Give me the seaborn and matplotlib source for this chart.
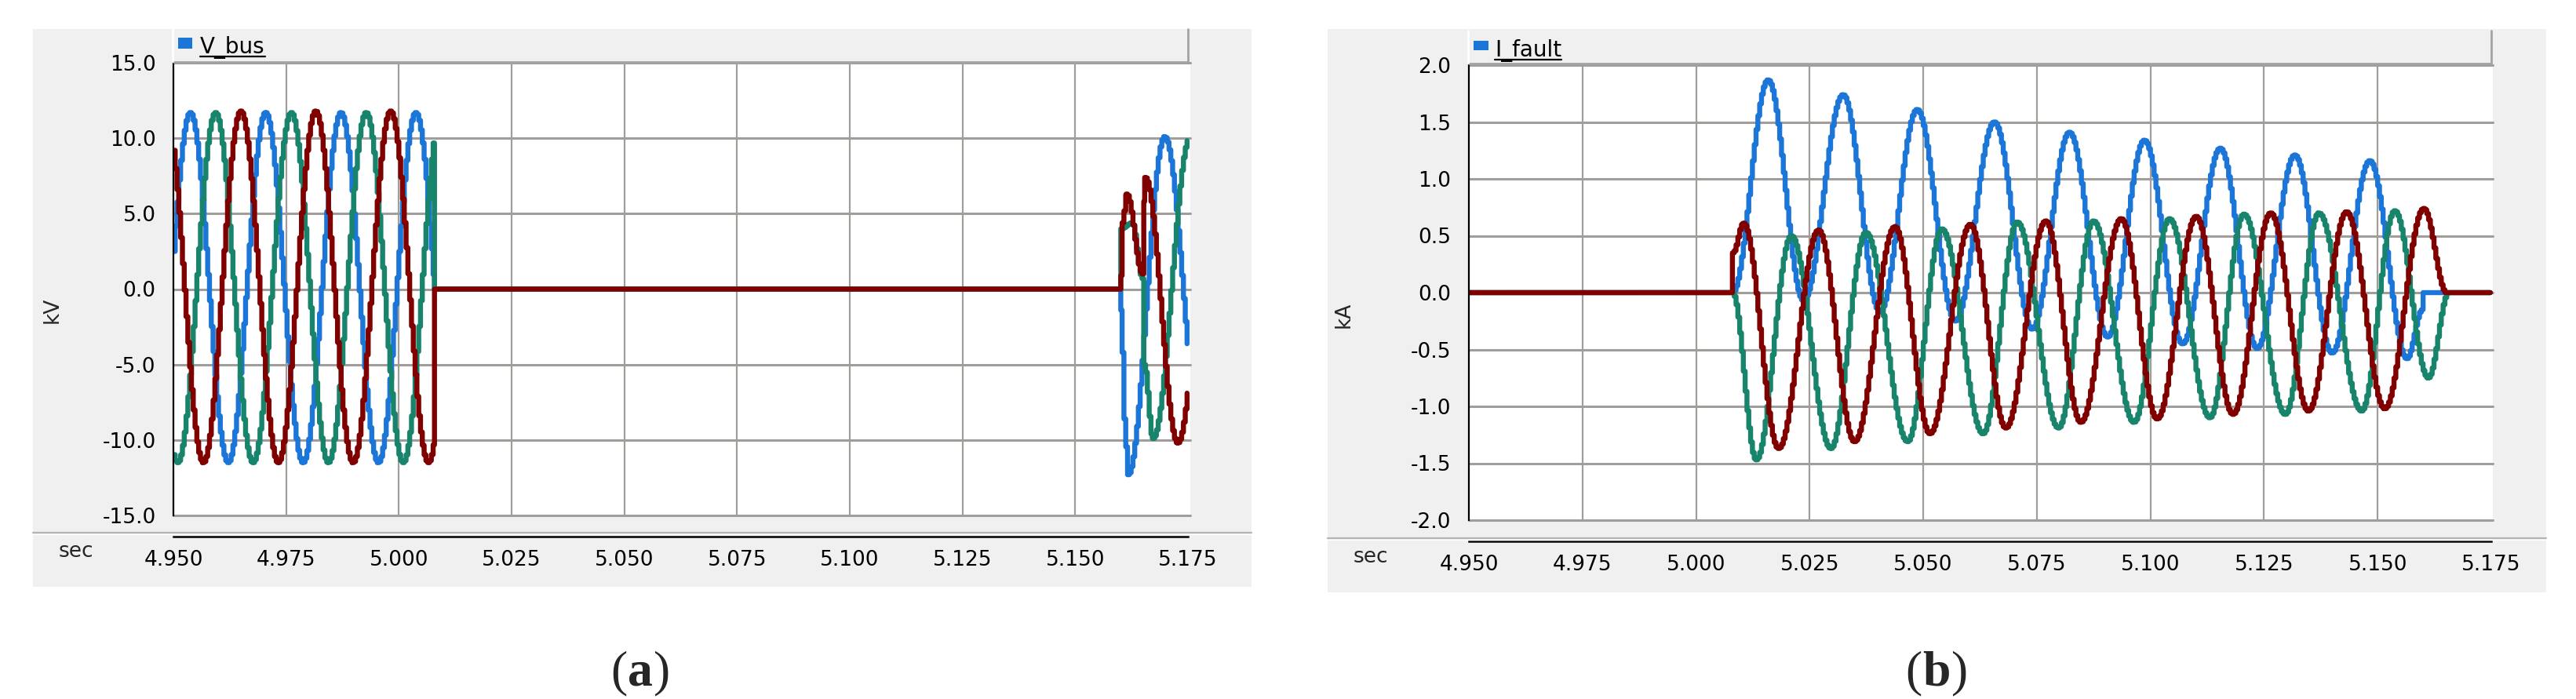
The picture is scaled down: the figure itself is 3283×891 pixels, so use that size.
import numpy as np
import pandas as pd
import matplotlib
matplotlib.use("Agg")
import matplotlib.pyplot as plt
import seaborn as sns
from matplotlib.patches import Rectangle
from matplotlib.lines import Line2D

# ---------------- data ----------------
X_TICKS = [4.950, 4.975, 5.000, 5.025, 5.050, 5.075, 5.100, 5.125, 5.150, 5.175]
X_TICK_LABELS = ["4.950", "4.975", "5.000", "5.025", "5.050", "5.075",
                 "5.100", "5.125", "5.150", "5.175"]
V_TICKS = [-15.0, -10.0, -5.0, 0.0, 5.0, 10.0, 15.0]
I_TICKS = [-2.0, -1.5, -1.0, -0.5, 0.0, 0.5, 1.0, 1.5, 2.0]
PHASES = ["A", "B", "C"]
COLORS = ["#1b76d8", "#18846b", "#800000"]

T_FAULT = 5.0079     # bus voltage collapses, fault current starts
T_RECLOSE = 5.1600   # bus voltage returns

# V_bus before the fault: extrema (s, kV)
VA_PRE_T = [4.9453, 4.9536, 4.9620, 4.9703, 4.9786, 4.9870, 4.9953, 5.0036, 5.0120]
VA_PRE_V = [-11.5, 11.7, -11.5, 11.7, -11.5, 11.7, -11.5, 11.7, -11.5]
VB_PRE_T = [4.9425, 4.9508, 4.9592, 4.9675, 4.9760, 4.9842, 4.9926, 5.0008, 5.0092]
VB_PRE_V = [11.7, -11.5, 11.7, -11.5, 11.7, -11.5, 11.7, -11.5, 11.7]
VC_PRE_T = [4.9482, 4.9565, 4.9648, 4.9731, 4.9814, 4.9897, 4.9980, 5.0064, 5.0147]
VC_PRE_V = [11.8, -11.5, 11.8, -11.5, 11.8, -11.5, 11.8, -11.5, 11.8]

# V_bus after reclosing (s, kV)
VA_POST_T = [5.1600, 5.1601, 5.1608, 5.1616, 5.1697, 5.1780]
VA_POST_V = [0.0, -1.4, -8.6, -12.3, 10.1, -10.2]
VB_POST_T = [5.1600, 5.1601, 5.1625, 5.1648, 5.1652, 5.1671, 5.1754, 5.1837]
VB_POST_V = [0.0, 4.0, 4.4, 0.7, -5.0, -9.9, 10.1, -10.0]
VC_POST_T = [5.1600, 5.1601, 5.1604, 5.1613, 5.1648, 5.1654, 5.1726, 5.1809]
VC_POST_V = [0.0, 0.9, 4.4, 6.3, 1.0, 7.4, -10.2, 10.0]

# I_fault during the fault (s, kA)
IA_T = [5.0079, 5.0157, 5.0235, 5.0322, 5.0403, 5.0485, 5.0569, 5.0655, 5.0738,
        5.0820, 5.0904, 5.0985, 5.1069, 5.1152, 5.1233, 5.1316, 5.1398, 5.1481,
        5.1563, 5.1597]
IA_V = [0.0, 1.87, -0.07, 1.74, -0.17, 1.61, -0.25, 1.50, -0.32,
        1.41, -0.39, 1.34, -0.45, 1.27, -0.49, 1.21, -0.53, 1.16,
        -0.58, -0.15]
IB_T = [5.0079, 5.0131, 5.0208, 5.0295, 5.0372, 5.0464, 5.0539, 5.0630, 5.0705,
        5.0796, 5.0873, 5.0962, 5.1040, 5.1129, 5.1204, 5.1295, 5.1369, 5.1463,
        5.1536, 5.1610, 5.1655]
IB_V = [0.0, -1.47, 0.50, -1.37, 0.53, -1.31, 0.56, -1.24, 0.62,
        -1.19, 0.63, -1.14, 0.65, -1.10, 0.69, -1.07, 0.70, -1.04,
        0.72, -0.75, 0.0]
IC_T = [5.0079, 5.0080, 5.0103, 5.0180, 5.0268, 5.0347, 5.0436, 5.0513, 5.0602,
        5.0680, 5.0768, 5.0845, 5.0934, 5.1013, 5.1099, 5.1180, 5.1263, 5.1346,
        5.1430, 5.1514, 5.1600, 5.1650]
IC_V = [0.0, 0.35, 0.61, -1.37, 0.55, -1.31, 0.58, -1.24, 0.60,
        -1.19, 0.63, -1.14, 0.65, -1.11, 0.67, -1.07, 0.70, -1.04,
        0.71, -1.02, 0.74, 0.0]

PLOT_STEP = 0.0004  # recorder output interval (staircase look)

# ---------------- helpers ----------------
def shaped(kt, kv, t):
    """Half-cosine shape between successive read extrema."""
    kt = np.asarray(kt, float)
    kv = np.asarray(kv, float)
    i = np.clip(np.searchsorted(kt, t, side="right") - 1, 0, len(kt) - 2)
    s = np.clip((t - kt[i]) / (kt[i + 1] - kt[i]), 0, 1)
    return kv[i] + (kv[i + 1] - kv[i]) * (1 - np.cos(np.pi * s)) / 2


def time_grid(*knot_lists):
    g = np.arange(X_TICKS[0], X_TICKS[-1] + 1e-9, PLOT_STEP)
    extra = [T_FAULT, T_RECLOSE]
    for k in knot_lists:
        extra += list(k)
    extra = np.array(extra)
    extra = extra[(extra >= X_TICKS[0]) & (extra <= X_TICKS[-1])]
    return np.union1d(np.round(g, 7), np.round(extra, 7))


def voltage(pre_t, pre_v, post_t, post_v):
    t = time_grid(pre_t, post_t)
    v = np.zeros_like(t)
    m1 = t < T_FAULT
    m2 = t >= T_RECLOSE
    v[m1] = shaped(pre_t, pre_v, t[m1])
    v[m2] = shaped(post_t, post_v, t[m2])
    return t, v


def current(kt, kv):
    t = time_grid(kt)
    v = np.zeros_like(t)
    m = (t >= kt[0]) & (t <= kt[-1])
    v[m] = shaped(kt, kv, t[m])
    return t, v


rows_v, rows_i = [], []
for ph, (a, b, c, d) in zip(PHASES, [(VA_PRE_T, VA_PRE_V, VA_POST_T, VA_POST_V),
                                     (VB_PRE_T, VB_PRE_V, VB_POST_T, VB_POST_V),
                                     (VC_PRE_T, VC_PRE_V, VC_POST_T, VC_POST_V)]):
    t, v = voltage(a, b, c, d)
    rows_v.append(pd.DataFrame({"t": t, "val": v, "phase": ph}))
for ph, (kt, kv) in zip(PHASES, [(IA_T, IA_V), (IB_T, IB_V), (IC_T, IC_V)]):
    t, v = current(kt, kv)
    rows_i.append(pd.DataFrame({"t": t, "val": v, "phase": ph}))
df_v = pd.concat(rows_v, ignore_index=True)
df_i = pd.concat(rows_i, ignore_index=True)

# ---------------- figure ----------------
sns.set_style("white")
plt.rcParams["font.family"] = ["DejaVu Sans"]
plt.rcParams["axes.unicode_minus"] = False

W, H, DPI = 3283, 891, 100
fig = plt.figure(figsize=(W / DPI, H / DPI), dpi=DPI)
fig.patch.set_facecolor("white")


def fx(x):
    return x / W


def fy(y):
    return 1 - y / H


def rect(x0, y0, x1, y1, **kw):
    fig.add_artist(Rectangle((fx(x0), fy(y1)), fx(x1) - fx(x0), fy(y0) - fy(y1),
                             transform=fig.transFigure, **kw))


def seg(x0, y0, x1, y1, **kw):
    fig.add_artist(Line2D([fx(x0), fx(x1)], [fy(y0), fy(y1)],
                          transform=fig.transFigure, **kw))


GRID_C = "#a09d9a"
BG = "#f0f0f0"
FS = 19

panels = [
    dict(df=df_v, ticks=V_TICKS, unit="kV", legend="V_bus",
         grey=(42, 37, 1595, 748), strip=(221, 37, 1514, 78),
         plot=(221, 80, 1517, 657), ruler=(221, 1514, 684), sep=679,
         sec=(97, 703), ylab=(67, 395), sq=(227, 48, 245, 62),
         ltxt=(255, 68), uline=72, cap=(816, 873), letter="a"),
    dict(df=df_i, ticks=I_TICKS, unit="kA", legend="I_fault",
         grey=(1692, 37, 3245, 755), strip=(1872, 39, 3175, 80),
         plot=(1872, 83, 3177, 663), ruler=(1872, 3175, 690), sep=686,
         sec=(1747, 710), ylab=(1713, 401), sq=(1878, 52, 1897, 64),
         ltxt=(1905, 72), uline=76, cap=(2468, 873), letter="b"),
]

renderer = fig.canvas.get_renderer()

for p in panels:
    gx0, gy0, gx1, gy1 = p["grey"]
    rect(gx0, gy0, gx1, gy1, facecolor=BG, edgecolor="none", zorder=-5)

    # legend strip
    sx0, sy0, sx1, sy1 = p["strip"]
    rect(sx0, sy0, sx1, sy1, facecolor=BG, edgecolor="none", zorder=-4)
    seg(sx0, sy1 + 1, sx1, sy1 + 1, color="#a3a3a3", lw=2.0, zorder=2)
    seg(sx1, sy0, sx1, sy1 + 1, color="#a3a3a3", lw=2.0, zorder=2)
    seg(sx0 - 1, sy0, sx0 - 1, sy1, color="white", lw=2.0, zorder=2)
    qx0, qy0, qx1, qy1 = p["sq"]
    rect(qx0, qy0, qx1, qy1, facecolor=COLORS[0], edgecolor="none", zorder=3)
    tx, ty = p["ltxt"]
    lt = fig.text(fx(tx), fy(ty), p["legend"], fontsize=20, ha="left",
                  va="baseline", color="black")
    bb = lt.get_window_extent(renderer)
    seg(tx, p["uline"], tx + bb.width, p["uline"], color="black", lw=1.6, zorder=3)

    # main plot
    px0, py0, px1, py1 = p["plot"]
    rx0, rx1, ry = p["ruler"]
    ax = fig.add_axes([fx(px0), fy(py1), fx(px1) - fx(px0), fy(py0) - fy(py1)])
    ax.set_facecolor("white")
    sns.lineplot(data=p["df"], x="t", y="val", hue="phase", hue_order=PHASES,
                 palette=COLORS, estimator=None, errorbar=None, sort=False,
                 drawstyle="steps-post", linewidth=4.6, legend=False, ax=ax,
                 zorder=3)
    span = X_TICKS[-1] - X_TICKS[0]
    ax.set_xlim(X_TICKS[0], X_TICKS[0] + span * (px1 - px0) / (rx1 - rx0))
    ax.set_ylim(p["ticks"][0], p["ticks"][-1])
    ax.set_xticks(X_TICKS[1:-1])
    ax.set_yticks(p["ticks"])
    ax.set_yticklabels([f"{v:.1f}" for v in p["ticks"]])
    ax.set_xlabel("")
    ax.set_ylabel("")
    ax.tick_params(axis="x", length=0, labelbottom=False)
    ax.tick_params(axis="y", direction="out", length=7.2, width=1.5,
                   labelsize=FS, pad=9, colors="black")
    ax.grid(True, axis="x", color=GRID_C, lw=1.6)
    ax.grid(True, axis="y", color=GRID_C, lw=2.2)
    ax.set_axisbelow(True)
    for gl in ax.get_ygridlines():
        gl.set_clip_on(False)
    for s in ["top", "right", "bottom"]:
        ax.spines[s].set_visible(False)
    ax.spines["left"].set_color("black")
    ax.spines["left"].set_linewidth(1.6)
    ax.spines["left"].set_zorder(4)

    fig.text(fx(p["ylab"][0]), fy(p["ylab"][1]), p["unit"], rotation=90,
             ha="center", va="center", fontsize=FS)

    # separator + time ruler
    seg(gx0, p["sep"], gx1, p["sep"], color="#b4b4b4", lw=1.6, zorder=1)
    seg(gx0, p["sep"] + 2, gx1, p["sep"] + 2, color="white", lw=1.0, zorder=1)
    axr = fig.add_axes([fx(rx0), fy(ry), fx(rx1) - fx(rx0), 0.002])
    axr.patch.set_alpha(0)
    axr.set_xlim(X_TICKS[0], X_TICKS[-1])
    axr.set_ylim(0, 1)
    axr.set_xticks(X_TICKS)
    axr.set_xticklabels(X_TICK_LABELS)
    axr.set_yticks([])
    for s in ["top", "right", "left"]:
        axr.spines[s].set_visible(False)
    axr.spines["bottom"].set_color("black")
    axr.spines["bottom"].set_linewidth(1.8)
    axr.tick_params(axis="x", direction="out", length=7.2, width=1.5,
                    labelsize=FS, pad=5, colors="black")
    fig.text(fx(p["sec"][0]), fy(p["sec"][1]), "sec", ha="center",
             va="center", fontsize=FS)

    # caption (a)/(b)
    cx, cy = p["cap"]
    cfam = ["Liberation Serif", "DejaVu Serif"]
    cfs = 46
    tb = fig.text(fx(cx), fy(cy), p["letter"], fontsize=cfs, fontweight="bold",
                  family=cfam, ha="center", va="baseline")
    w = tb.get_window_extent(renderer).width
    fig.text(fx(cx - w / 2 - 1), fy(cy), "(", fontsize=cfs, family=cfam,
             ha="right", va="baseline")
    fig.text(fx(cx + w / 2 + 1), fy(cy), ")", fontsize=cfs, family=cfam,
             ha="left", va="baseline")

fig.savefig("out.png", dpi=DPI, facecolor="white")
